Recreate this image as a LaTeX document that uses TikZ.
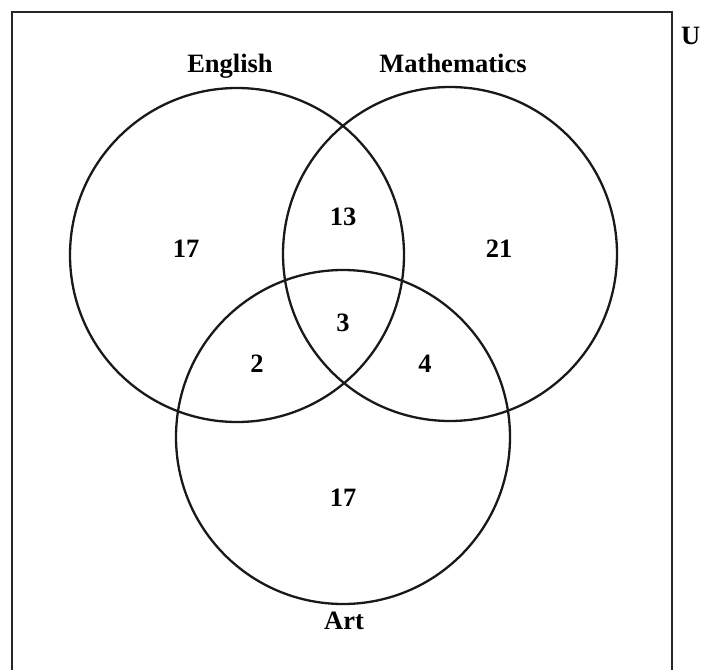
\documentclass[tikz,border=0pt]{standalone}
\usepackage{fontspec}
\setmainfont{Liberation Serif}
\begin{document}
\begin{tikzpicture}[x=1pt,y=-1pt,
  setcircle/.style={circle,draw=black!90,line width=2.3pt,minimum size=334pt,inner sep=0pt},
  lab/.style={anchor=base,inner sep=0pt,font=\fontsize{26.5}{30}\selectfont\bfseries},
  frame/.style={draw=black!85,line width=2pt}]
\useasboundingbox (0,0) rectangle (701,669);
\draw[frame] (11.5,680) -- (11.5,12) -- (672,12) -- (672,680);
\node[lab,anchor=base west] (u) at (681,45) {U};
\node[setcircle] (eng) at (237,255) {};
\node[setcircle] (mat) at (450,254) {};
\node[setcircle] (art) at (343,437) {};
\node[lab] (engl) at (230,73) {English};
\node[lab] (matl) at (453,73) {Mathematics};
\node[lab] (artl) at (344,629) {Art};
\node[lab] (n1) at (186,257) {17};
\node[lab] (n2) at (343,225) {13};
\node[lab] (n3) at (499,257) {21};
\node[lab] (n4) at (343,331) {3};
\node[lab] (n5) at (257,372) {2};
\node[lab] (n6) at (425,372) {4};
\node[lab] (n7) at (343,506) {17};
\end{tikzpicture}
\end{document}
